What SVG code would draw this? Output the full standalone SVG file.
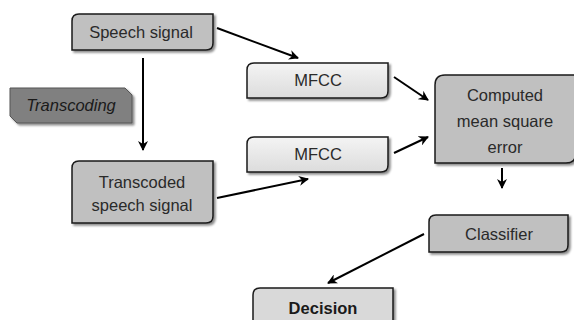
<svg xmlns="http://www.w3.org/2000/svg" width="574" height="320" viewBox="0 0 574 320">
  <defs>
    <linearGradient id="lightFill" x1="0" y1="0" x2="0" y2="1">
      <stop offset="0" stop-color="#f4f4f4"/>
      <stop offset="1" stop-color="#dcdcdc"/>
    </linearGradient>
    <filter id="shadow" x="-10%" y="-10%" width="130%" height="140%">
      <feDropShadow dx="2" dy="2" stdDeviation="1" flood-color="#000" flood-opacity="0.45"/>
    </filter>
    <marker id="head" viewBox="0 0 10 10" refX="9" refY="5" markerWidth="5" markerHeight="5" orient="auto" markerUnits="strokeWidth">
      <path d="M0,0 L10,5 L0,10 L3,5 Z" fill="#000"/>
    </marker>
  </defs>
  <style>
    .box { stroke: #1a1a1a; stroke-width: 1.5; filter: url(#shadow); }
    .gray { fill: #c0c0c0; }
    .light { fill: url(#lightFill); }
    .dark { fill: #808080; }
    .lbl { font-family: "Liberation Sans", Arial, sans-serif; font-size: 16.5px; fill: #2a2a2a; text-anchor: middle; }
    .conn line { stroke: #000; stroke-width: 2; marker-end: url(#head); }
  </style>

  <rect width="574" height="320" fill="#fff"/>

  <g id="speech-signal">
    <path class="box gray" d="M79,14 H213 V43 Q213,50 206,50 H72 V21 Q72,14 79,14 Z"/>
    <text class="lbl" x="141" y="38">Speech signal</text>
  </g>

  <g id="transcoding">
    <path class="box dark" d="M10,88 H125 L132,95 V123 H17 L10,116 Z" style="stroke:#555;stroke-width:1"/>
    <text class="lbl" x="71" y="111" font-style="italic" style="fill:#1a1a1a">Transcoding</text>
  </g>

  <g id="transcoded-signal">
    <path class="box gray" d="M79,161 H213 V216 Q213,223 206,223 H72 V168 Q72,161 79,161 Z"/>
    <text class="lbl" x="142" y="188">Transcoded</text>
    <text class="lbl" x="142" y="211">speech signal</text>
  </g>

  <g id="mfcc-1">
    <path class="box light" d="M254,63 H388 V91 Q388,98 381,98 H247 V70 Q247,63 254,63 Z"/>
    <text class="lbl" x="318" y="86">MFCC</text>
  </g>

  <g id="mfcc-2">
    <path class="box light" d="M254,137 H388 V165 Q388,172 381,172 H247 V144 Q247,137 254,137 Z"/>
    <text class="lbl" x="318" y="160">MFCC</text>
  </g>

  <g id="mse">
    <path class="box gray" d="M445,75 H576 V153 Q576,163 566,163 H435 V85 Q435,75 445,75 Z"/>
    <text class="lbl" x="505" y="101">Computed</text>
    <text class="lbl" x="505" y="127">mean square</text>
    <text class="lbl" x="505" y="153">error</text>
  </g>

  <g id="classifier">
    <path class="box gray" d="M436,215 H568 V245 Q568,252 561,252 H429 V222 Q429,215 436,215 Z"/>
    <text class="lbl" x="499" y="240">Classifier</text>
  </g>

  <g id="decision">
    <path class="box" style="fill:#d9d9d9" d="M260,288 H393 V330 H253 V295 Q253,288 260,288 Z"/>
    <text class="lbl" x="323" y="314" font-weight="bold" style="fill:#1a1a1a">Decision</text>
  </g>

  <g id="connectors" class="conn">
    <line x1="217" y1="28" x2="298" y2="58"/>
    <line x1="143" y1="58" x2="143" y2="150"/>
    <line x1="217" y1="198" x2="308" y2="179"/>
    <line x1="394" y1="77" x2="428" y2="100"/>
    <line x1="394" y1="153" x2="428" y2="137"/>
    <line x1="502" y1="168" x2="502" y2="188"/>
    <line x1="424" y1="234" x2="328" y2="283"/>
  </g>
</svg>
